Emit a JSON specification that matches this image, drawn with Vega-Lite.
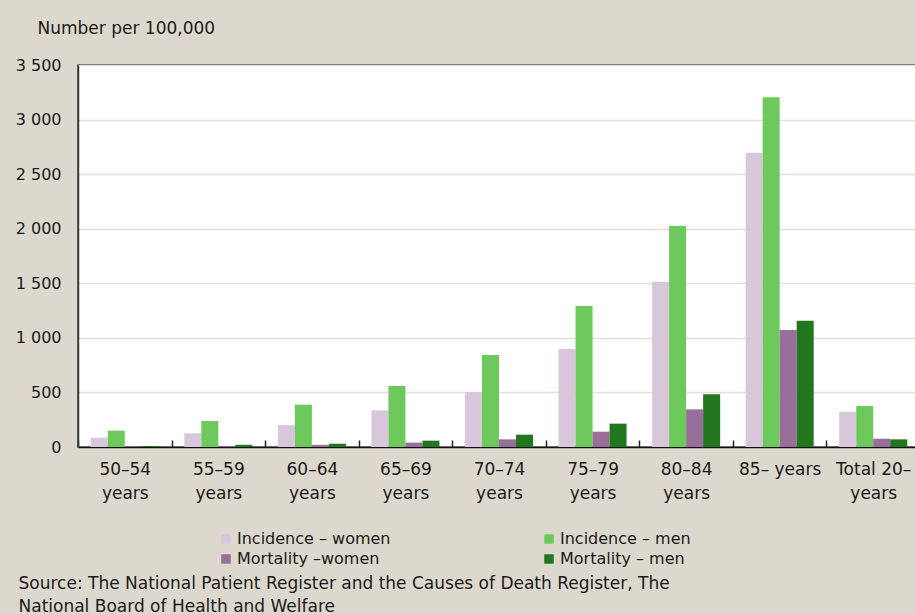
{
  "$schema": "https://vega.github.io/schema/vega-lite/v6.json",
  "autosize": {"type": "none"},
  "padding": {"left": 78, "top": 65, "right": 0, "bottom": 167},
  "width": 842,
  "height": 382,
  "background": "#ddd8cd",
  "config": {
    "font": "DejaVu Sans",
    "view": {"fill": "white", "stroke": "#3a3a3a", "strokeWidth": 1.5}
  },
  "data": {"values": [
    {"age": "50–54 years", "series": "Incidence – women", "value": 85},
    {"age": "50–54 years", "series": "Incidence – men", "value": 150},
    {"age": "50–54 years", "series": "Mortality –women", "value": 2},
    {"age": "50–54 years", "series": "Mortality – men", "value": 8},
    {"age": "55–59 years", "series": "Incidence – women", "value": 125},
    {"age": "55–59 years", "series": "Incidence – men", "value": 238},
    {"age": "55–59 years", "series": "Mortality –women", "value": 5},
    {"age": "55–59 years", "series": "Mortality – men", "value": 20},
    {"age": "60–64 years", "series": "Incidence – women", "value": 200},
    {"age": "60–64 years", "series": "Incidence – men", "value": 388},
    {"age": "60–64 years", "series": "Mortality –women", "value": 20},
    {"age": "60–64 years", "series": "Mortality – men", "value": 30},
    {"age": "65–69 years", "series": "Incidence – women", "value": 336},
    {"age": "65–69 years", "series": "Incidence – men", "value": 559},
    {"age": "65–69 years", "series": "Mortality –women", "value": 40},
    {"age": "65–69 years", "series": "Mortality – men", "value": 58},
    {"age": "70–74 years", "series": "Incidence – women", "value": 504},
    {"age": "70–74 years", "series": "Incidence – men", "value": 843},
    {"age": "70–74 years", "series": "Mortality –women", "value": 70},
    {"age": "70–74 years", "series": "Mortality – men", "value": 113},
    {"age": "75–79 years", "series": "Incidence – women", "value": 898},
    {"age": "75–79 years", "series": "Incidence – men", "value": 1292},
    {"age": "75–79 years", "series": "Mortality –women", "value": 140},
    {"age": "75–79 years", "series": "Mortality – men", "value": 214},
    {"age": "80–84 years", "series": "Incidence – women", "value": 1515},
    {"age": "80–84 years", "series": "Incidence – men", "value": 2025},
    {"age": "80–84 years", "series": "Mortality –women", "value": 345},
    {"age": "80–84 years", "series": "Mortality – men", "value": 483},
    {"age": "85– years", "series": "Incidence – women", "value": 2697},
    {"age": "85– years", "series": "Incidence – men", "value": 3204},
    {"age": "85– years", "series": "Mortality –women", "value": 1072},
    {"age": "85– years", "series": "Mortality – men", "value": 1157},
    {"age": "Total 20– years", "series": "Incidence – women", "value": 324},
    {"age": "Total 20– years", "series": "Incidence – men", "value": 376},
    {"age": "Total 20– years", "series": "Mortality –women", "value": 76},
    {"age": "Total 20– years", "series": "Mortality – men", "value": 70}
  ]},
  "mark": {"type": "bar"},
  "encoding": {
    "x": {
      "field": "age", "type": "nominal", "sort": null,
      "scale": {"paddingInner": 0, "paddingOuter": 0},
      "axis": {
        "title": ["Source: The National Patient Register and the Causes of Death Register, The", "National Board of Health and Welfare"],
        "titleX": -60, "titleY": 141, "titleAlign": "left", "titleAnchor": "start",
        "titleBaseline": "alphabetic", "titleFontSize": 17, "titleFontWeight": "normal",
        "titleLineHeight": 23, "titleColor": "#1a1a1a",
        "labelAngle": 0, "labelFontSize": 17, "labelColor": "#1a1a1a",
        "labelExpr": "!isString(datum.value) ? '' : datum.value == '85– years' ? datum.value : [replace(datum.value, ' years', ''), 'years']",
        "labelLineHeight": 24, "labelBaseline": "top", "labelPadding": 21,
        "tickBand": "extent", "tickSize": -7, "tickColor": "#222", "tickWidth": 1.5,
        "domainColor": "#111", "domainWidth": 1.5, "labelOverlap": false
      }
    },
    "xOffset": {
      "field": "series", "type": "nominal", "sort": null,
      "scale": {"paddingInner": 0, "paddingOuter": 0.75}
    },
    "y": {
      "field": "value", "type": "quantitative",
      "scale": {"domain": [0, 3500]},
      "axis": {
        "title": "Number per 100,000", "titleAngle": 0, "titleX": -41, "titleY": -32,
        "titleAlign": "left", "titleBaseline": "alphabetic", "titleFontSize": 17,
        "titleFontWeight": "normal", "titleColor": "#1a1a1a",
        "values": [0, 500, 1000, 1500, 2000, 2500, 3000, 3500],
        "labelExpr": "replace(format(datum.value, ','), ',', ' ')",
        "labelFontSize": 16, "labelColor": "#1a1a1a", "labelPadding": 17,
        "ticks": false, "domainColor": "#3a3a3a", "domainWidth": 1.5,
        "grid": true, "gridColor": "#e4dfd7", "gridWidth": 1.5
      }
    },
    "color": {
      "field": "series", "type": "nominal", "sort": null,
      "scale": {
        "domain": ["Incidence – women", "Incidence – men", "Mortality –women", "Mortality – men"],
        "range": ["#d8c7da", "#6dc95c", "#9a6e9a", "#21761e"]
      },
      "legend": {
        "title": null, "orient": "none", "legendX": 140, "legendY": 466,
        "values": ["Incidence – women", "Mortality –women", "Incidence – men", "Mortality – men"],
        "columns": 2, "columnPadding": 150, "rowPadding": 4,
        "symbolType": "square", "symbolSize": 90, "symbolStrokeWidth": 0,
        "labelFontSize": 16, "labelColor": "#1a1a1a", "labelOffset": 3
      }
    }
  }
}
